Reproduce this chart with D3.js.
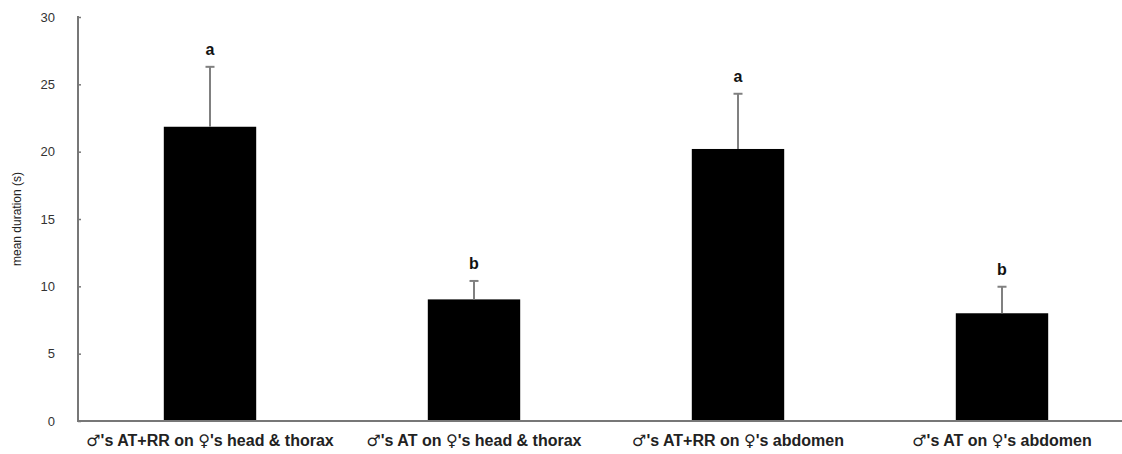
<!DOCTYPE html>
<html>
<head>
<meta charset="utf-8">
<script src="https://cdn.jsdelivr.net/npm/d3@7"></script>
<style>
html,body{margin:0;padding:0;background:#fff;}
svg{display:block;}
</style>
</head>
<body>
<svg id="chart" width="1122" height="454"></svg>
<script>
const categories = ["♂'s AT+RR on ♀'s head & thorax", "♂'s AT on ♀'s head & thorax", "♂'s AT+RR on ♀'s abdomen", "♂'s AT on ♀'s abdomen"];
const means = [21.85, 9.03, 20.2, 8.0];
const errors = [4.45, 1.37, 4.1, 1.97];
const letters = ["a", "b", "a", "b"];
const yTicks = [0, 5, 10, 15, 20, 25, 30];

const svg = d3.select("#chart");
const x0 = 78, x1 = 1134, yTop = 17, yBottom = 421;
const x = d3.scaleBand().domain(categories).range([x0, x1]).paddingInner(0.65).paddingOuter(0.325);
const y = d3.scaleLinear().domain([0, 30]).range([yBottom, yTop]);

// bars
svg.append("g").selectAll("rect").data(categories).join("rect")
  .attr("x", d => x(d)).attr("width", x.bandwidth())
  .attr("y", (d, i) => y(means[i])).attr("height", (d, i) => y(0) - y(means[i]))
  .attr("fill", "#000");

// error bars
const eg = svg.append("g").attr("stroke", "#808080").attr("stroke-width", 2);
categories.forEach((c, i) => {
  const cx = x(c) + x.bandwidth() / 2;
  eg.append("line").attr("x1", cx).attr("x2", cx).attr("y1", y(means[i])).attr("y2", y(means[i] + errors[i]));
  eg.append("line").attr("x1", cx - 4.5).attr("x2", cx + 4.5).attr("y1", y(means[i] + errors[i])).attr("y2", y(means[i] + errors[i]));
});

// letters
svg.append("g").selectAll("text").data(categories).join("text")
  .attr("x", d => x(d) + x.bandwidth() / 2)
  .attr("y", (d, i) => y(means[i] + errors[i]) - 12)
  .attr("text-anchor", "middle")
  .attr("font-family", "Liberation Sans, Arial, sans-serif")
  .attr("font-weight", "bold").attr("font-size", 16).attr("fill", "#111")
  .text((d, i) => letters[i]);

// y axis
const yAxis = d3.axisRight(y).tickValues(yTicks).tickSize(3).tickFormat(d3.format("d"));
const ya = svg.append("g").attr("transform", `translate(${x0},0)`).call(yAxis);
ya.select(".domain").remove();
ya.selectAll(".tick line").attr("stroke", "#777").attr("stroke-width", 1.5);
ya.selectAll(".tick text").attr("x", -23).attr("text-anchor", "end")
  .attr("font-family", "Liberation Sans, Arial, sans-serif").attr("font-size", 13).attr("fill", "#333");
svg.append("line").attr("x1", x0).attr("x2", x0).attr("y1", yTop - 1).attr("y2", yBottom + 1)
  .attr("stroke", "#777").attr("stroke-width", 2);

// x axis line
svg.append("line").attr("x1", x0 - 1).attr("x2", 1122).attr("y1", yBottom).attr("y2", yBottom)
  .attr("stroke", "#777").attr("stroke-width", 2);

// x labels (gender symbols in DejaVu Sans for proper glyph size)
const xl = svg.append("g").selectAll("text").data(categories).join("text")
  .attr("x", d => x(d) + x.bandwidth() / 2).attr("y", 446)
  .attr("text-anchor", "middle")
  .attr("font-family", "Liberation Sans, Arial, sans-serif")
  .attr("font-weight", "bold").attr("font-size", 16).attr("fill", "#222");
xl.each(function(d) {
  const t = d3.select(this);
  d.split(/([♂♀])/).filter(s => s.length).forEach(part => {
    const ts = t.append("tspan").text(part);
    if (part === "♂" || part === "♀") ts.attr("font-family", "DejaVu Sans").attr("font-weight", "normal");
  });
});

// y label
svg.append("text").attr("transform", "translate(21,219) rotate(-90)")
  .attr("text-anchor", "middle")
  .attr("font-family", "Liberation Sans, Arial, sans-serif").attr("font-size", 12).attr("fill", "#222")
  .text("mean duration (s)");
</script>
</body>
</html>
